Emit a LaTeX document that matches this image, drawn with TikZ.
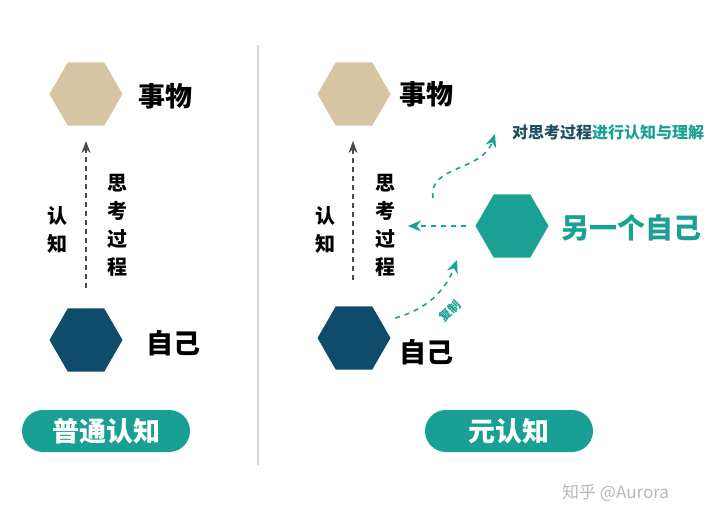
\documentclass[tikz,border=0pt]{standalone}
\usepackage{fontspec}
\setmainfont{Noto Sans CJK SC}
\newfontfamily\cjk{Noto Sans CJK SC}
\usetikzlibrary{arrows.meta,shapes.geometric}
\definecolor{tan}{HTML}{D6C4A2}
\definecolor{navy}{HTML}{0F4C6C}
\definecolor{teal}{HTML}{1BA193}
\definecolor{pillc}{HTML}{17A093}
\definecolor{darkt}{HTML}{1E4F63}
\definecolor{arrg}{HTML}{4A4A4A}
\tikzset{
  hexa/.style={regular polygon,regular polygon sides=6,minimum size=73pt,inner sep=0pt,draw=none,fill=#1},
  big/.style={font=\cjk\bfseries\fontsize{27}{30}\selectfont,text=black,inner sep=0pt},
  vert/.style={font=\cjk\bfseries\fontsize{20}{28}\selectfont,align=center,inner sep=0pt},
  pill/.style={rounded corners=21pt,fill=pillc,minimum width=168pt,minimum height=42pt,text=white,font=\cjk\bfseries\fontsize{27}{30}\selectfont,inner sep=0pt},
  garrow/.style={draw=arrg,line width=1.2pt,dash pattern=on 5pt off 4pt,-{Stealth[length=12pt,width=9pt]}},
  tarrow/.style={draw=teal,line width=1.6pt,dash pattern=on 5pt off 5pt,-{Stealth[length=13pt,width=11pt]}}
}
\begin{document}
\begin{tikzpicture}[x=1pt,y=-1pt]
\useasboundingbox[fill=white] (0,0) rectangle (720,522);
% separator
\draw[line width=2pt,color=black!17] (258,45) -- (258,465);
% left panel
\node[hexa=tan] (lthing) at (86,94) {};
\node[big,anchor=west] (lthingt) at (138,96) {事物};
\node[hexa=navy] (lself) at (86,340) {};
\node[big,anchor=west] (lselft) at (146,343) {自己};
\coordinate (lstart) at (86,288);
\coordinate (lend) at (86,141);
\draw[garrow] (lstart) -- (lend);
\node[vert] (lcog) at (57,230) {认\\知};
\node[vert] (lthink) at (117,225) {思\\考\\过\\程};
\node[pill] (lpill) at (106,431) {普通认知};
% right panel
\node[hexa=tan] (rthing) at (354,94) {};
\node[big,anchor=west] (rthingt) at (399,94) {事物};
\node[hexa=navy] (rself) at (354,338) {};
\node[big,anchor=west] (rselft) at (399,352) {自己};
\coordinate (rstart) at (353,280);
\coordinate (rend) at (353,141);
\draw[garrow] (rstart) -- (rend);
\node[vert] (rcog) at (325,230) {认\\知};
\node[vert] (rthink) at (385,225) {思\\考\\过\\程};
\node[hexa=teal] (other) at (512,226) {};
\node[font=\cjk\bfseries\fontsize{28}{30}\selectfont,text=teal,anchor=west,inner sep=0pt] (othert) at (561,228) {另一个自己};
\coordinate (ostart) at (466,226);
\coordinate (oend) at (408,226);
\draw[tarrow] (ostart) -- (oend);
\coordinate (ustart) at (433,198);
\coordinate (uend) at (495,134);
\draw[tarrow] (ustart) .. controls (428,165) and (482,172) .. (uend);
\node[font=\cjk\bfseries\fontsize{16}{18}\selectfont,anchor=west,inner sep=0pt] (metat) at (512,132) {\textcolor{darkt}{对思考过程}\textcolor{teal}{进行认知与理解}};
\coordinate (cstart) at (395,318);
\coordinate (cend) at (457,260);
\draw[tarrow] (cstart) .. controls (425,310) and (445,292) .. (cend);
\node[font=\cjk\bfseries\fontsize{12}{13}\selectfont,text=teal,rotate=45,inner sep=0pt] (copyt) at (450,311) {复制};
\node[pill] (rpill) at (509,431) {元认知};
% watermark
\node[font=\cjk\fontsize{17}{20}\selectfont,text=black!28,anchor=west,inner sep=0pt] (wm) at (562,493) {知乎 @Aurora};
\end{tikzpicture}
\end{document}
